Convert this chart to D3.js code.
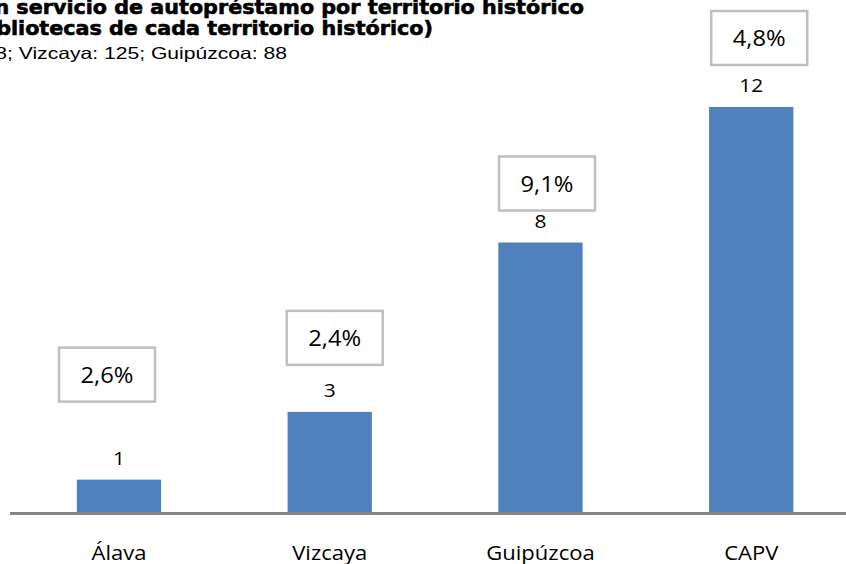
<!DOCTYPE html>
<html>
<head>
<meta charset="utf-8">
<script src="https://cdn.jsdelivr.net/npm/d3@7"></script>
<style>
  body { margin: 0; background: #fff; }
  svg { display: block; }
  .title { font-family: "DejaVu Sans", sans-serif; font-weight: bold; font-size: 20px; fill: #000; stroke: #000; stroke-width: 0.6px; }
  .subtitle { font-family: "Liberation Sans", Arial, sans-serif; font-size: 16.5px; fill: #000; }
  .val { font-family: "Open Sans", sans-serif; font-size: 19px; fill: #000; }
  .pct { font-family: "Open Sans", sans-serif; font-size: 22px; fill: #000; }
  .cat { font-family: "Open Sans", sans-serif; font-size: 19.5px; fill: #000; }
</style>
</head>
<body>
<script>
var width = 846,
    height = 564;

// data
var categories = ["Álava", "Vizcaya", "Guipúzcoa", "CAPV"];
var counts = [1, 3, 8, 12];
var percents = ["2,6%", "2,4%", "9,1%", "4,8%"];

var titleLines = [
  "Gráfico 5. Bibliotecas con servicio de autopréstamo por territorio histórico",
  "(Porcentaje sobre el total de bibliotecas de cada territorio histórico)"
];
var subtitle = "Base: Álava: 38; Vizcaya: 125; Guipúzcoa: 88";

// hand placed label boxes (layout only)
var boxDx = [-12, 5, 6.5, 8];     // shift from bar centre
var boxGap = [78, 47, 32, 42];    // gap between box bottom and bar top
var boxW = 96, boxH = 54;

var baseY = 513.5;

var svg = d3.select("body").append("svg")
    .attr("width", width)
    .attr("height", height);

// the source picture is stretched sideways a bit, so texts get a scaleX
function place(sel, x, y, sx) {
  return sel.attr("transform", "translate(" + x + "," + y + ") scale(" + sx + ",1)");
}

var x = d3.scaleBand()
    .domain(categories)
    .range([13.6, 856.6])
    .paddingInner(0.6)
    .paddingOuter(0.3);

var y = d3.scaleLinear()
    .domain([0, 12])
    .range([baseY, 107]);

// title, clipped at the left / top like the source
place(svg.append("text").attr("class", "title")
    .attr("text-anchor", "end")
    .text(titleLines[0]), 584, 14, 1.035);
place(svg.append("text").attr("class", "title")
    .attr("text-anchor", "end")
    .text(titleLines[1]), 433, 35, 1.035);
place(svg.append("text").attr("class", "subtitle")
    .attr("text-anchor", "end")
    .text(subtitle), 287, 59, 1.28);

// bars
svg.append("g").selectAll("rect")
    .data(counts)
  .enter().append("rect")
    .attr("x", (d, i) => x(categories[i]))
    .attr("y", d => y(d))
    .attr("width", x.bandwidth())
    .attr("height", d => baseY - y(d))
    .attr("fill", "#4f81bd");

// axis line
svg.append("line")
    .attr("x1", 10).attr("x2", width)
    .attr("y1", baseY).attr("y2", baseY)
    .attr("stroke", "#868686")
    .attr("stroke-width", 3);

// value labels
svg.append("g").selectAll("text")
    .data(counts)
  .enter().append("text")
    .attr("class", "val")
    .attr("text-anchor", "middle")
    .attr("transform", (d, i) => "translate(" + (x(categories[i]) + x.bandwidth() / 2) + "," + (y(d) - 15) + ") scale(1.1,1)")
    .text(d => d);

// percentage boxes
var boxes = svg.append("g").selectAll("g")
    .data(percents)
  .enter().append("g")
    .attr("transform", (d, i) => {
      var cx = x(categories[i]) + x.bandwidth() / 2 + boxDx[i];
      var bottom = y(counts[i]) - boxGap[i];
      return "translate(" + (cx - boxW / 2) + "," + (bottom - boxH) + ")";
    });

boxes.append("rect")
    .attr("width", boxW)
    .attr("height", boxH)
    .attr("fill", "#fff")
    .attr("stroke", "#bfbfbf")
    .attr("stroke-width", 2.5);

boxes.append("text")
    .attr("class", "pct")
    .attr("text-anchor", "middle")
    .attr("transform", "translate(" + (boxW / 2) + "," + (boxH / 2 + 8) + ") scale(1.08,1)")
    .text(d => d);

// category labels
svg.append("g").selectAll("text")
    .data(categories)
  .enter().append("text")
    .attr("class", "cat")
    .attr("text-anchor", "middle")
    .attr("transform", d => "translate(" + (x(d) + x.bandwidth() / 2) + ",560) scale(1.13,1)")
    .text(d => d);
</script>
</body>
</html>
